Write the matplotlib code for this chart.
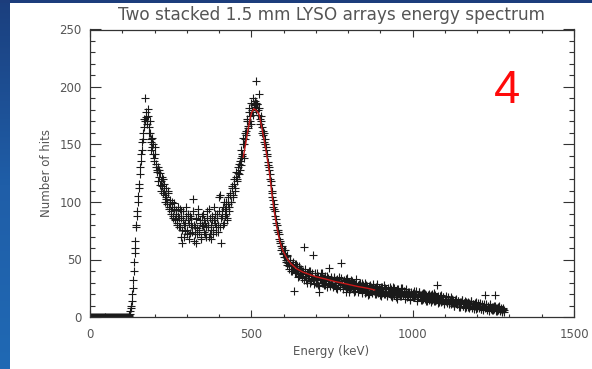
import numpy as np
import matplotlib
matplotlib.use("Agg")
import matplotlib.pyplot as plt
from matplotlib.patches import Rectangle
from matplotlib.ticker import MultipleLocator
from matplotlib.colors import LinearSegmentedColormap

# ---------------- data ----------------
# spectrum read in two interleaved sets of 3 keV bins
bin_start = 0
bin_step = 3
counts = [
    # 0 - 117 keV
    0, 0, 0, 0, 0, 0, 0, 0, 0, 0, 0, 0, 0, 0, 0, 0, 0, 0, 0, 0,
    0, 0, 0, 0, 0, 0, 0, 0, 0, 0, 0, 0, 0, 0, 0, 0, 0, 0, 0, 0,
    # 120 - 180
    1, 3, 8, 14, 25, 40, 56, 66, 80, 92, 105, 116, 130, 142, 152, 160, 172, 190, 178, 170, 181,
    # 183 - 282
    165, 160, 152, 148, 150, 138, 142, 133, 128, 130, 122, 125, 118, 114, 120, 110, 106, 112, 103, 100,
    108, 96, 98, 92, 100, 88, 94, 85, 90, 82, 96, 86, 78, 92,
    # 285 - 402
    64, 84, 80, 75, 88, 76, 90, 82, 73, 86, 78, 103, 80, 72, 64, 85, 77, 90, 74, 82,
    70, 88, 79, 84, 72, 78, 92, 80, 70, 86, 76, 88, 72, 84, 90, 78, 86, 74, 92, 106,
    # 405 - 513
    64, 88, 96, 82, 94, 90, 100, 86, 98, 92, 106, 100, 112, 104, 116, 110, 122, 118, 125, 133,
    128, 138, 140, 150, 138, 155, 162, 170, 166, 182, 175, 168, 180, 176, 185, 183, 186,
    # 516 - 630
    205, 185, 180, 194, 172, 170, 165, 158, 160, 150, 148, 140, 135, 128, 124, 115, 108, 102, 98, 92,
    85, 80, 76, 72, 66, 62, 60, 55, 58, 52, 50, 54, 45, 48, 44, 50, 40, 45, 42,
    # 633 - 747
    23, 46, 38, 44, 40, 36, 42, 38, 34, 40, 61, 36, 32, 38, 34, 40, 30, 36, 38, 54,
    32, 36, 30, 38, 33, 28, 22, 35, 32, 38, 30, 34, 28, 32, 36, 30, 43, 28, 33,
    # 750 - 864
    30, 26, 34, 28, 32, 24, 30, 35, 28, 47, 30, 26, 32, 28, 22, 30, 34, 26, 29, 24,
    32, 27, 30, 22, 28, 33, 25, 28, 24, 30, 26, 21, 28, 25, 30, 22, 27, 24, 20,
    # 867 - 981
    28, 25, 22, 27, 24, 20, 26, 23, 29, 21, 25, 22, 18, 26, 23, 20, 25, 22, 19, 24,
    21, 26, 18, 23, 20, 25, 22, 17, 24, 20, 22, 18, 25, 21, 19, 23, 20, 24, 17,
    # 984 - 1098
    22, 19, 21, 16, 22, 19, 21, 17, 20, 23, 16, 19, 22, 18, 15, 20, 17, 21, 16, 19,
    14, 18, 20, 16, 19, 15, 18, 21, 14, 17, 28, 15, 18, 13, 16, 19, 14, 17, 12,
    # 1101 - 1215
    15, 18, 13, 16, 11, 14, 17, 12, 15, 10, 13, 16, 11, 14, 12, 9, 13, 15, 10, 12,
    14, 9, 12, 10, 13, 8, 11, 14, 9, 11, 7, 10, 13, 8, 11, 9, 12, 7, 10,
    # 1218 - 1284
    8, 11, 19, 9, 6, 10, 8, 11, 7, 9, 6, 10, 19, 8, 5, 9, 7, 10, 6, 8, 5, 7, 4,
]

bin_start_b = 121.5
counts_b = [
    # 121.5 - 181.5
    2, 5, 10, 20, 32, 48, 60, 78, 88, 100, 112, 124, 136, 145, 155, 165, 170, 174, 168, 175, 160,
    # 184.5 onwards
    170, 155, 145, 156, 142, 136, 148, 130, 126, 118,
    128, 115, 110, 122, 108, 116, 100, 104, 98,
    110, 94, 102, 90, 96, 86, 99, 84, 93, 80,
    88, 78, 94, 70, 86, 76, 92, 70, 82, 96,
    72, 84, 68, 88, 80, 74, 92, 66, 78, 86,
    72, 94, 76, 84, 68, 80, 90, 74, 82, 70,
    86, 78, 94, 72, 80, 68, 84, 76, 96, 82,
    74, 90, 80, 104, 78, 86, 92, 80, 100, 88,
    94, 84, 104, 96, 108, 100, 114, 106, 120, 112,
    126, 120, 130, 124, 136, 132, 145, 142, 156, 150,
    160, 158, 172, 164, 178, 170, 186, 178, 190, 184,
    188, 180, 185, 176, 182, 168, 175, 160, 162, 152,
    155, 145, 142, 132, 130, 120, 118, 110, 104, 96,
    94, 88, 82, 76, 74, 68, 64, 58, 62, 56,
    52, 58, 48, 53, 47, 42, 50, 44, 40, 48,
    42, 38, 46, 40, 35, 44, 38, 42, 34, 40,
    37, 32, 42, 36, 30, 38, 34, 40, 31, 36,
    33, 29, 38, 34, 30, 36, 27, 33, 38, 30,
    34, 28, 36, 31, 26, 34, 30, 27, 35, 29,
    32, 27, 35, 30, 25, 33, 28, 31, 26, 34,
    29, 24, 31, 27, 33, 25, 29, 22, 30, 26,
    31, 24, 28, 23, 30, 26, 22, 29, 25, 27,
    23, 30, 24, 26, 21, 28, 24, 19, 27, 23,
    26, 21, 29, 23, 25, 20, 27, 22, 24, 19,
    26, 21, 23, 28, 20, 24, 18, 25, 22, 20,
    24, 17, 22, 26, 19, 23, 21, 16, 24, 20,
    22, 18, 25, 19, 21, 16, 23, 20, 18, 22,
    15, 21, 19, 17, 23, 18, 20, 14, 19, 22,
    17, 19, 15, 21, 16, 18, 20, 14, 17, 19,
    15, 18, 13, 20, 16, 14, 19, 15, 17, 12,
    16, 18, 13, 15, 17, 11, 16, 14, 12, 17,
    13, 15, 11, 16, 12, 14, 10, 15, 13, 11,
    14, 9, 13, 11, 15, 10, 12, 8, 13, 11,
    9, 12, 10, 14, 8, 11, 9, 12, 7, 10,
    12, 8, 10, 7, 11, 9, 6, 10, 8, 11,
    7, 9, 5, 10, 8, 6, 9, 7, 10, 5,
    8, 6, 9, 5, 7, 4, 8, 6,
]

energy = bin_start + bin_step * np.arange(len(counts))
energy_b = bin_start_b + bin_step * np.arange(len(counts_b))

fit_energy = [475, 482, 488, 495, 501, 508, 514, 520, 524, 530, 539, 547, 555, 565,
              572, 579, 588, 597, 610, 622, 640, 660, 675, 700, 730, 757, 790, 830, 860, 882]
fit_counts = [139, 150, 160, 171, 178, 181, 180, 178, 176, 168, 155, 142, 128, 104,
              90, 78, 66, 58, 51, 46.5, 42, 39, 37.5, 35, 33, 31, 29, 26.5, 25, 23.5]

title = "Two stacked 1.5 mm LYSO arrays energy spectrum"
xlabel = "Energy (keV)"
ylabel = "Number of hits"
badge = "4"

# ---------------- figure ----------------
W, H = 592, 369
fig = plt.figure(figsize=(W / 100, H / 100), dpi=100)
fig.patch.set_facecolor("white")

# blue slide border (left gradient strip + top strip)
bax = fig.add_axes([0, 0, 10 / W, 1])
grad = np.linspace(0, 1, 256).reshape(-1, 1)
cmap = LinearSegmentedColormap.from_list("b", ["#1b3f7e", "#1f5ea8", "#2069b4"])
bax.imshow(grad, aspect="auto", cmap=cmap, extent=[0, 1, 0, 1], origin="upper")
bax.set_axis_off()
fig.patches.append(Rectangle((0, 1 - 3 / H), 1, 3 / H, transform=fig.transFigure,
                             facecolor="#1c3d7c", edgecolor="none", zorder=5))

ax = fig.add_axes([90 / W, (H - 317) / H, (574 - 90) / W, (317 - 29.5) / H])
mk = dict(linestyle="none", marker="+", markersize=5.2, markeredgewidth=0.8, color="#1a1a1a")
ax.plot(energy, counts, **mk)
ax.plot(energy_b, counts_b, **mk)
ax.plot(fit_energy, fit_counts, color="#c81818", linewidth=1.0)

ax.set_xlim(0, 1500)
ax.set_ylim(0, 250)
ax.xaxis.set_major_locator(MultipleLocator(500))
ax.xaxis.set_minor_locator(MultipleLocator(100))
ax.yaxis.set_major_locator(MultipleLocator(50))
ax.yaxis.set_minor_locator(MultipleLocator(10))

gray = "#555555"
ax.tick_params(which="both", direction="in", top=True, right=True,
               color="#333333", width=0.8, labelcolor=gray, labelsize=8.5)
ax.tick_params(axis="y", which="major", length=8, pad=6)
ax.tick_params(axis="y", which="minor", length=3.6)
ax.tick_params(axis="x", which="major", length=4.7, pad=8)
ax.tick_params(axis="x", which="minor", length=2.2)
for s in ax.spines.values():
    s.set_color("#333333")
    s.set_linewidth(0.9)

fig.text(332 / W, 1 - 15.5 / H, title, ha="center", va="center",
         fontsize=12.2, color=gray)
fig.text(331.5 / W, 1 - 351 / H, xlabel, ha="center", va="center",
         fontsize=8.5, color=gray)
fig.text(46 / W, 1 - 173 / H, ylabel, ha="center", va="center",
         rotation=90, fontsize=8.5, color=gray)
fig.text(507 / W, 1 - 91 / H, badge, ha="center", va="center",
         fontsize=34, color="#ff0a0a", family="Liberation Sans")

fig.savefig("out.png", dpi=100, facecolor="white")
